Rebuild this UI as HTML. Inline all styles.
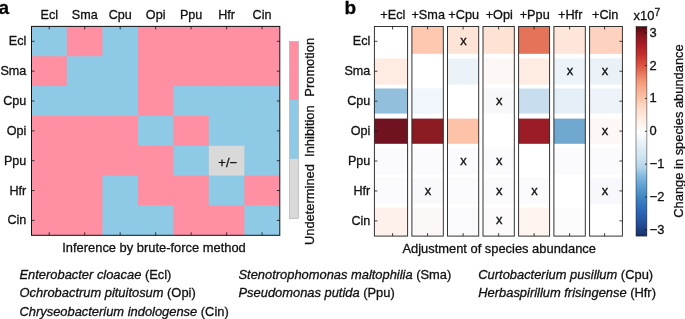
<!DOCTYPE html>
<html><head><meta charset="utf-8"><title>Figure</title>
<style>text{stroke:#111;stroke-width:0.3px}html,body{margin:0;padding:0;background:#fff;overflow:hidden}body{width:685px;height:319px;position:relative;font-family:"Liberation Sans",sans-serif}</style></head>
<body>
<svg width="685" height="319" viewBox="0 0 685 319" style="position:absolute;left:0;top:0;will-change:transform;font-family:'Liberation Sans',sans-serif;font-size:12.90px" fill="#111">
<rect x="0" y="0" width="685" height="319" fill="#fff"/>
<rect x="31.50" y="26.40" width="36.47" height="30.84" fill="#8ECAE6"/>
<rect x="66.97" y="26.40" width="36.47" height="30.84" fill="#FF8FA3"/>
<rect x="102.44" y="26.40" width="36.47" height="30.84" fill="#8ECAE6"/>
<rect x="137.91" y="26.40" width="36.47" height="30.84" fill="#FF8FA3"/>
<rect x="173.39" y="26.40" width="36.47" height="30.84" fill="#FF8FA3"/>
<rect x="208.86" y="26.40" width="36.47" height="30.84" fill="#FF8FA3"/>
<rect x="244.33" y="26.40" width="35.47" height="30.84" fill="#FF8FA3"/>
<rect x="31.50" y="56.24" width="36.47" height="30.84" fill="#FF8FA3"/>
<rect x="66.97" y="56.24" width="36.47" height="30.84" fill="#8ECAE6"/>
<rect x="102.44" y="56.24" width="36.47" height="30.84" fill="#8ECAE6"/>
<rect x="137.91" y="56.24" width="36.47" height="30.84" fill="#FF8FA3"/>
<rect x="173.39" y="56.24" width="36.47" height="30.84" fill="#FF8FA3"/>
<rect x="208.86" y="56.24" width="36.47" height="30.84" fill="#FF8FA3"/>
<rect x="244.33" y="56.24" width="35.47" height="30.84" fill="#FF8FA3"/>
<rect x="31.50" y="86.09" width="36.47" height="30.84" fill="#8ECAE6"/>
<rect x="66.97" y="86.09" width="36.47" height="30.84" fill="#8ECAE6"/>
<rect x="102.44" y="86.09" width="36.47" height="30.84" fill="#8ECAE6"/>
<rect x="137.91" y="86.09" width="36.47" height="30.84" fill="#FF8FA3"/>
<rect x="173.39" y="86.09" width="36.47" height="30.84" fill="#8ECAE6"/>
<rect x="208.86" y="86.09" width="36.47" height="30.84" fill="#8ECAE6"/>
<rect x="244.33" y="86.09" width="35.47" height="30.84" fill="#8ECAE6"/>
<rect x="31.50" y="115.93" width="36.47" height="30.84" fill="#FF8FA3"/>
<rect x="66.97" y="115.93" width="36.47" height="30.84" fill="#FF8FA3"/>
<rect x="102.44" y="115.93" width="36.47" height="30.84" fill="#FF8FA3"/>
<rect x="137.91" y="115.93" width="36.47" height="30.84" fill="#8ECAE6"/>
<rect x="173.39" y="115.93" width="36.47" height="30.84" fill="#FF8FA3"/>
<rect x="208.86" y="115.93" width="36.47" height="30.84" fill="#8ECAE6"/>
<rect x="244.33" y="115.93" width="35.47" height="30.84" fill="#8ECAE6"/>
<rect x="31.50" y="145.77" width="36.47" height="30.84" fill="#FF8FA3"/>
<rect x="66.97" y="145.77" width="36.47" height="30.84" fill="#FF8FA3"/>
<rect x="102.44" y="145.77" width="36.47" height="30.84" fill="#FF8FA3"/>
<rect x="137.91" y="145.77" width="36.47" height="30.84" fill="#FF8FA3"/>
<rect x="173.39" y="145.77" width="36.47" height="30.84" fill="#8ECAE6"/>
<rect x="208.86" y="145.77" width="36.47" height="30.84" fill="#D9D9D9"/>
<rect x="244.33" y="145.77" width="35.47" height="30.84" fill="#8ECAE6"/>
<rect x="31.50" y="175.61" width="36.47" height="30.84" fill="#FF8FA3"/>
<rect x="66.97" y="175.61" width="36.47" height="30.84" fill="#FF8FA3"/>
<rect x="102.44" y="175.61" width="36.47" height="30.84" fill="#8ECAE6"/>
<rect x="137.91" y="175.61" width="36.47" height="30.84" fill="#FF8FA3"/>
<rect x="173.39" y="175.61" width="36.47" height="30.84" fill="#FF8FA3"/>
<rect x="208.86" y="175.61" width="36.47" height="30.84" fill="#8ECAE6"/>
<rect x="244.33" y="175.61" width="35.47" height="30.84" fill="#FF8FA3"/>
<rect x="31.50" y="205.46" width="36.47" height="29.84" fill="#FF8FA3"/>
<rect x="66.97" y="205.46" width="36.47" height="29.84" fill="#FF8FA3"/>
<rect x="102.44" y="205.46" width="36.47" height="29.84" fill="#8ECAE6"/>
<rect x="137.91" y="205.46" width="36.47" height="29.84" fill="#8ECAE6"/>
<rect x="173.39" y="205.46" width="36.47" height="29.84" fill="#FF8FA3"/>
<rect x="208.86" y="205.46" width="36.47" height="29.84" fill="#FF8FA3"/>
<rect x="244.33" y="205.46" width="35.47" height="29.84" fill="#8ECAE6"/>
<rect x="31.50" y="26.40" width="248.30" height="208.90" fill="none" stroke="#111" stroke-width="1"/>
<path d="M49.24 26.40v3.00 M49.24 235.30v-3.00 M31.50 41.32h3.00 M279.80 41.32h-3.00" stroke="#111" stroke-width="0.8" fill="none"/>
<text x="49.24" y="19.0" font-size="12.6px" text-anchor="middle">Ecl</text>
<text x="26.3" y="45.32" font-size="12.6px" text-anchor="end">Ecl</text>
<path d="M84.71 26.40v3.00 M84.71 235.30v-3.00 M31.50 71.16h3.00 M279.80 71.16h-3.00" stroke="#111" stroke-width="0.8" fill="none"/>
<text x="84.71" y="19.0" font-size="12.6px" text-anchor="middle">Sma</text>
<text x="26.3" y="75.16" font-size="12.6px" text-anchor="end">Sma</text>
<path d="M120.18 26.40v3.00 M120.18 235.30v-3.00 M31.50 101.01h3.00 M279.80 101.01h-3.00" stroke="#111" stroke-width="0.8" fill="none"/>
<text x="120.18" y="19.0" font-size="12.6px" text-anchor="middle">Cpu</text>
<text x="26.3" y="105.01" font-size="12.6px" text-anchor="end">Cpu</text>
<path d="M155.65 26.40v3.00 M155.65 235.30v-3.00 M31.50 130.85h3.00 M279.80 130.85h-3.00" stroke="#111" stroke-width="0.8" fill="none"/>
<text x="155.65" y="19.0" font-size="12.6px" text-anchor="middle">Opi</text>
<text x="26.3" y="134.85" font-size="12.6px" text-anchor="end">Opi</text>
<path d="M191.12 26.40v3.00 M191.12 235.30v-3.00 M31.50 160.69h3.00 M279.80 160.69h-3.00" stroke="#111" stroke-width="0.8" fill="none"/>
<text x="191.12" y="19.0" font-size="12.6px" text-anchor="middle">Ppu</text>
<text x="26.3" y="164.69" font-size="12.6px" text-anchor="end">Ppu</text>
<path d="M226.59 26.40v3.00 M226.59 235.30v-3.00 M31.50 190.54h3.00 M279.80 190.54h-3.00" stroke="#111" stroke-width="0.8" fill="none"/>
<text x="226.59" y="19.0" font-size="12.6px" text-anchor="middle">Hfr</text>
<text x="26.3" y="194.54" font-size="12.6px" text-anchor="end">Hfr</text>
<path d="M262.06 26.40v3.00 M262.06 235.30v-3.00 M31.50 220.38h3.00 M279.80 220.38h-3.00" stroke="#111" stroke-width="0.8" fill="none"/>
<text x="262.06" y="19.0" font-size="12.6px" text-anchor="middle">Cin</text>
<text x="26.3" y="224.38" font-size="12.6px" text-anchor="end">Cin</text>
<text x="227.69" y="166.79" text-anchor="middle">+/−</text>
<text x="-1.6" y="13.9" font-weight="bold" font-size="19px" fill="#000">a</text>
<text x="344.6" y="13.9" font-weight="bold" font-size="19px" fill="#000">b</text>
<text x="154" y="252.3" text-anchor="middle">Inference by brute-force method</text>
<rect x="289.60" y="41.50" width="8.80" height="58.70" fill="#FF8FA3"/>
<rect x="289.60" y="100.00" width="8.80" height="59.00" fill="#8ECAE6"/>
<rect x="289.60" y="158.80" width="8.80" height="59.80" fill="#D9D9D9"/>
<rect x="289.60" y="41.50" width="8.80" height="176.90" fill="none" stroke="#aaa" stroke-width="0.6"/>
<text transform="translate(313.8 67.30) rotate(-90)" text-anchor="middle">Promotion</text>
<text transform="translate(313.8 131.10) rotate(-90)" text-anchor="middle">Inhibition</text>
<text transform="translate(313.8 204.60) rotate(-90)" text-anchor="middle">Undetermined</text>
<rect x="374.40" y="26.50" width="33.20" height="209.60" fill="#fff"/>
<rect x="374.40" y="58.40" width="33.20" height="26.10" fill="#feece2"/>
<rect x="374.40" y="88.50" width="33.20" height="25.10" fill="#92c0dc"/>
<rect x="374.40" y="118.60" width="33.20" height="25.20" fill="#701220"/>
<rect x="374.40" y="148.30" width="33.20" height="25.50" fill="#fbfafc"/>
<rect x="374.40" y="178.20" width="33.20" height="25.60" fill="#fbfafc"/>
<rect x="374.40" y="207.60" width="33.20" height="28.50" fill="#fef0eb"/>
<rect x="374.40" y="26.50" width="33.20" height="209.60" fill="none" stroke="#2a2a2a" stroke-width="0.95"/>
<path d="M392.60 26.50v3.00 M392.60 236.10v-3.00" stroke="#111" stroke-width="0.8" fill="none"/>
<text x="392.80" y="19.0" font-size="12.7px" text-anchor="middle">+Ecl</text>
<rect x="411.90" y="26.50" width="31.40" height="209.60" fill="#fff"/>
<rect x="411.90" y="26.50" width="31.40" height="27.30" fill="#fdc8af"/>
<rect x="411.90" y="88.50" width="31.40" height="25.10" fill="#f0f6fb"/>
<rect x="411.90" y="118.60" width="31.40" height="25.20" fill="#8c1c23"/>
<rect x="411.90" y="148.30" width="31.40" height="25.50" fill="#fbfafc"/>
<rect x="411.90" y="178.20" width="31.40" height="25.60" fill="#f9f9fc"/>
<rect x="411.90" y="207.60" width="31.40" height="28.50" fill="#fcf8f8"/>
<rect x="411.90" y="26.50" width="31.40" height="209.60" fill="none" stroke="#2a2a2a" stroke-width="0.95"/>
<path d="M427.60 26.50v3.00 M427.60 236.10v-3.00" stroke="#111" stroke-width="0.8" fill="none"/>
<text x="428.20" y="19.0" font-size="12.7px" text-anchor="middle">+Sma</text>
<text x="428.10" y="194.55" text-anchor="middle" style="stroke-width:0.35px">x</text>
<rect x="447.50" y="26.50" width="31.20" height="209.60" fill="#fff"/>
<rect x="447.50" y="26.50" width="31.20" height="27.30" fill="#fee4d7"/>
<rect x="447.50" y="58.40" width="31.20" height="26.10" fill="#ebf3f9"/>
<rect x="447.50" y="118.60" width="31.20" height="25.20" fill="#fdc3a8"/>
<rect x="447.50" y="148.30" width="31.20" height="25.50" fill="#fbfafc"/>
<rect x="447.50" y="178.20" width="31.20" height="25.60" fill="#fbfafc"/>
<rect x="447.50" y="207.60" width="31.20" height="28.50" fill="#fafafc"/>
<rect x="447.50" y="26.50" width="31.20" height="209.60" fill="none" stroke="#2a2a2a" stroke-width="0.95"/>
<path d="M463.10 26.50v3.00 M463.10 236.10v-3.00" stroke="#111" stroke-width="0.8" fill="none"/>
<text x="463.70" y="19.0" font-size="12.7px" text-anchor="middle">+Cpu</text>
<text x="463.60" y="44.90" text-anchor="middle" style="stroke-width:0.35px">x</text>
<text x="463.60" y="164.62" text-anchor="middle" style="stroke-width:0.35px">x</text>
<rect x="483.00" y="26.50" width="31.30" height="209.60" fill="#fff"/>
<rect x="483.00" y="26.50" width="31.30" height="27.30" fill="#fee2d4"/>
<rect x="483.00" y="58.40" width="31.30" height="26.10" fill="#fdf8f6"/>
<rect x="483.00" y="88.50" width="31.30" height="25.10" fill="#f8f8fa"/>
<rect x="483.00" y="148.30" width="31.30" height="25.50" fill="#fbfafc"/>
<rect x="483.00" y="178.20" width="31.30" height="25.60" fill="#fbfafc"/>
<rect x="483.00" y="207.60" width="31.30" height="28.50" fill="#fcfafa"/>
<rect x="483.00" y="26.50" width="31.30" height="209.60" fill="none" stroke="#2a2a2a" stroke-width="0.95"/>
<path d="M498.65 26.50v3.00 M498.65 236.10v-3.00" stroke="#111" stroke-width="0.8" fill="none"/>
<text x="499.25" y="19.0" font-size="12.7px" text-anchor="middle">+Opi</text>
<text x="499.15" y="104.76" text-anchor="middle" style="stroke-width:0.35px">x</text>
<text x="499.15" y="164.62" text-anchor="middle" style="stroke-width:0.35px">x</text>
<text x="499.15" y="194.55" text-anchor="middle" style="stroke-width:0.35px">x</text>
<text x="499.15" y="224.48" text-anchor="middle" style="stroke-width:0.35px">x</text>
<rect x="518.60" y="26.50" width="31.00" height="209.60" fill="#fff"/>
<rect x="518.60" y="26.50" width="31.00" height="27.30" fill="#e4735a"/>
<rect x="518.60" y="58.40" width="31.00" height="26.10" fill="#feece2"/>
<rect x="518.60" y="88.50" width="31.00" height="25.10" fill="#c8deee"/>
<rect x="518.60" y="118.60" width="31.00" height="25.20" fill="#9b1c26"/>
<rect x="518.60" y="178.20" width="31.00" height="25.60" fill="#fbfafc"/>
<rect x="518.60" y="207.60" width="31.00" height="28.50" fill="#fef4f0"/>
<rect x="518.60" y="26.50" width="31.00" height="209.60" fill="none" stroke="#2a2a2a" stroke-width="0.95"/>
<path d="M534.10 26.50v3.00 M534.10 236.10v-3.00" stroke="#111" stroke-width="0.8" fill="none"/>
<text x="534.70" y="19.0" font-size="12.7px" text-anchor="middle">+Ppu</text>
<text x="534.60" y="194.55" text-anchor="middle" style="stroke-width:0.35px">x</text>
<rect x="553.90" y="26.50" width="31.40" height="209.60" fill="#fff"/>
<rect x="553.90" y="26.50" width="31.40" height="27.30" fill="#fee6da"/>
<rect x="553.90" y="58.40" width="31.40" height="26.10" fill="#ecf4f9"/>
<rect x="553.90" y="88.50" width="31.40" height="25.10" fill="#e4eff7"/>
<rect x="553.90" y="118.60" width="31.40" height="25.20" fill="#70a8d0"/>
<rect x="553.90" y="148.30" width="31.40" height="25.50" fill="#fbfafc"/>
<rect x="553.90" y="207.60" width="31.40" height="28.50" fill="#fdfcfc"/>
<rect x="553.90" y="26.50" width="31.40" height="209.60" fill="none" stroke="#2a2a2a" stroke-width="0.95"/>
<path d="M569.60 26.50v3.00 M569.60 236.10v-3.00" stroke="#111" stroke-width="0.8" fill="none"/>
<text x="570.20" y="19.0" font-size="12.7px" text-anchor="middle">+Hfr</text>
<text x="570.10" y="74.83" text-anchor="middle" style="stroke-width:0.35px">x</text>
<rect x="589.60" y="26.50" width="32.80" height="209.60" fill="#fff"/>
<rect x="589.60" y="26.50" width="32.80" height="27.30" fill="#fed2be"/>
<rect x="589.60" y="58.40" width="32.80" height="26.10" fill="#eaf2f8"/>
<rect x="589.60" y="88.50" width="32.80" height="25.10" fill="#eef3f9"/>
<rect x="589.60" y="118.60" width="32.80" height="25.20" fill="#fdf7f5"/>
<rect x="589.60" y="148.30" width="32.80" height="25.50" fill="#fbfafc"/>
<rect x="589.60" y="178.20" width="32.80" height="25.60" fill="#f8f8fc"/>
<rect x="589.60" y="26.50" width="32.80" height="209.60" fill="none" stroke="#2a2a2a" stroke-width="0.95"/>
<path d="M604.60 26.50v3.00 M604.60 236.10v-3.00" stroke="#111" stroke-width="0.8" fill="none"/>
<text x="605.20" y="19.0" font-size="12.7px" text-anchor="middle">+Cin</text>
<text x="605.10" y="74.83" text-anchor="middle" style="stroke-width:0.35px">x</text>
<text x="605.10" y="134.69" text-anchor="middle" style="stroke-width:0.35px">x</text>
<text x="605.10" y="194.55" text-anchor="middle" style="stroke-width:0.35px">x</text>
<path d="M374.40 41.30h3.00 M622.40 41.30h-3.00" stroke="#111" stroke-width="0.8" fill="none"/>
<text x="370.3" y="45.30" font-size="12.6px" text-anchor="end">Ecl</text>
<path d="M374.40 71.23h3.00 M622.40 71.23h-3.00" stroke="#111" stroke-width="0.8" fill="none"/>
<text x="370.3" y="75.23" font-size="12.6px" text-anchor="end">Sma</text>
<path d="M374.40 101.16h3.00 M622.40 101.16h-3.00" stroke="#111" stroke-width="0.8" fill="none"/>
<text x="370.3" y="105.16" font-size="12.6px" text-anchor="end">Cpu</text>
<path d="M374.40 131.09h3.00 M622.40 131.09h-3.00" stroke="#111" stroke-width="0.8" fill="none"/>
<text x="370.3" y="135.09" font-size="12.6px" text-anchor="end">Opi</text>
<path d="M374.40 161.02h3.00 M622.40 161.02h-3.00" stroke="#111" stroke-width="0.8" fill="none"/>
<text x="370.3" y="165.02" font-size="12.6px" text-anchor="end">Ppu</text>
<path d="M374.40 190.95h3.00 M622.40 190.95h-3.00" stroke="#111" stroke-width="0.8" fill="none"/>
<text x="370.3" y="194.95" font-size="12.6px" text-anchor="end">Hfr</text>
<path d="M374.40 220.88h3.00 M622.40 220.88h-3.00" stroke="#111" stroke-width="0.8" fill="none"/>
<text x="370.3" y="224.88" font-size="12.6px" text-anchor="end">Cin</text>
<text x="499.2" y="252.7" text-anchor="middle">Adjustment of species abundance</text>
<defs><linearGradient id="cb" x1="0" y1="0" x2="0" y2="1">
<stop offset="0.0000" stop-color="#500812"/>
<stop offset="0.0167" stop-color="#690e18"/>
<stop offset="0.0358" stop-color="#82141e"/>
<stop offset="0.0883" stop-color="#aa1e26"/>
<stop offset="0.1360" stop-color="#c6302d"/>
<stop offset="0.1862" stop-color="#dc5541"/>
<stop offset="0.2649" stop-color="#f59b7a"/>
<stop offset="0.3442" stop-color="#fcc4aa"/>
<stop offset="0.3795" stop-color="#fdd7c3"/>
<stop offset="0.4272" stop-color="#fee8dc"/>
<stop offset="0.4749" stop-color="#fff6f1"/>
<stop offset="0.5012" stop-color="#ffffff"/>
<stop offset="0.5418" stop-color="#eef5fa"/>
<stop offset="0.5895" stop-color="#dceaf5"/>
<stop offset="0.6372" stop-color="#c8e0f0"/>
<stop offset="0.6754" stop-color="#b2d3e9"/>
<stop offset="0.7088" stop-color="#87bce2"/>
<stop offset="0.7566" stop-color="#62a2d4"/>
<stop offset="0.8138" stop-color="#4187c3"/>
<stop offset="0.8759" stop-color="#2d69b9"/>
<stop offset="0.9236" stop-color="#2655a5"/>
<stop offset="0.9714" stop-color="#1e3e82"/>
<stop offset="1.0000" stop-color="#162d64"/>
</linearGradient></defs>
<rect x="636.00" y="26.50" width="10.90" height="209.60" fill="url(#cb)" stroke="#222" stroke-width="0.5"/>
<path d="M646.90 229.86h-2" stroke="#111" stroke-width="0.8"/>
<text x="649.70" y="233.86">−3</text>
<path d="M646.90 197.01h-2" stroke="#111" stroke-width="0.8"/>
<text x="649.70" y="201.01">−2</text>
<path d="M646.90 164.15h-2" stroke="#111" stroke-width="0.8"/>
<text x="649.70" y="168.15">−1</text>
<path d="M646.90 131.30h-2" stroke="#111" stroke-width="0.8"/>
<text x="649.50" y="135.30">0</text>
<path d="M646.90 98.45h-2" stroke="#111" stroke-width="0.8"/>
<text x="649.50" y="102.45">1</text>
<path d="M646.90 65.59h-2" stroke="#111" stroke-width="0.8"/>
<text x="649.50" y="69.59">2</text>
<path d="M646.90 32.74h-2" stroke="#111" stroke-width="0.8"/>
<text x="649.50" y="36.74">3</text>
<text x="633.6" y="19.8">x10<tspan dy="-3.5" font-size="10.2px">7</tspan></text>
<text transform="translate(682.5 131) rotate(-90)" text-anchor="middle">Change in species abundance</text>
<text x="19.50" y="279.10" font-size="12.9px" style="white-space:pre"><tspan font-style="italic">Enterobacter cloacae</tspan> (Ecl)</text>
<text x="19.50" y="297.30" font-size="12.9px" style="white-space:pre"><tspan font-style="italic">Ochrobactrum pituitosum</tspan> (Opi)</text>
<text x="19.50" y="315.50" font-size="12.9px" style="white-space:pre"><tspan font-style="italic">Chryseobacterium indologense</tspan> (Cin)</text>
<text x="238.50" y="279.10" font-size="12.9px" style="white-space:pre"><tspan font-style="italic">Stenotrophomonas maltophilia</tspan> (Sma)</text>
<text x="238.50" y="297.30" font-size="12.9px" style="white-space:pre"><tspan font-style="italic">Pseudomonas putida</tspan> (Ppu)</text>
<text x="478.30" y="279.10" font-size="12.9px" style="white-space:pre"><tspan font-style="italic">Curtobacterium pusillum</tspan> (Cpu)</text>
<text x="478.30" y="297.30" font-size="12.9px" style="white-space:pre"><tspan font-style="italic">Herbaspirillum frisingense</tspan> (Hfr)</text>
</svg>
</body></html>
